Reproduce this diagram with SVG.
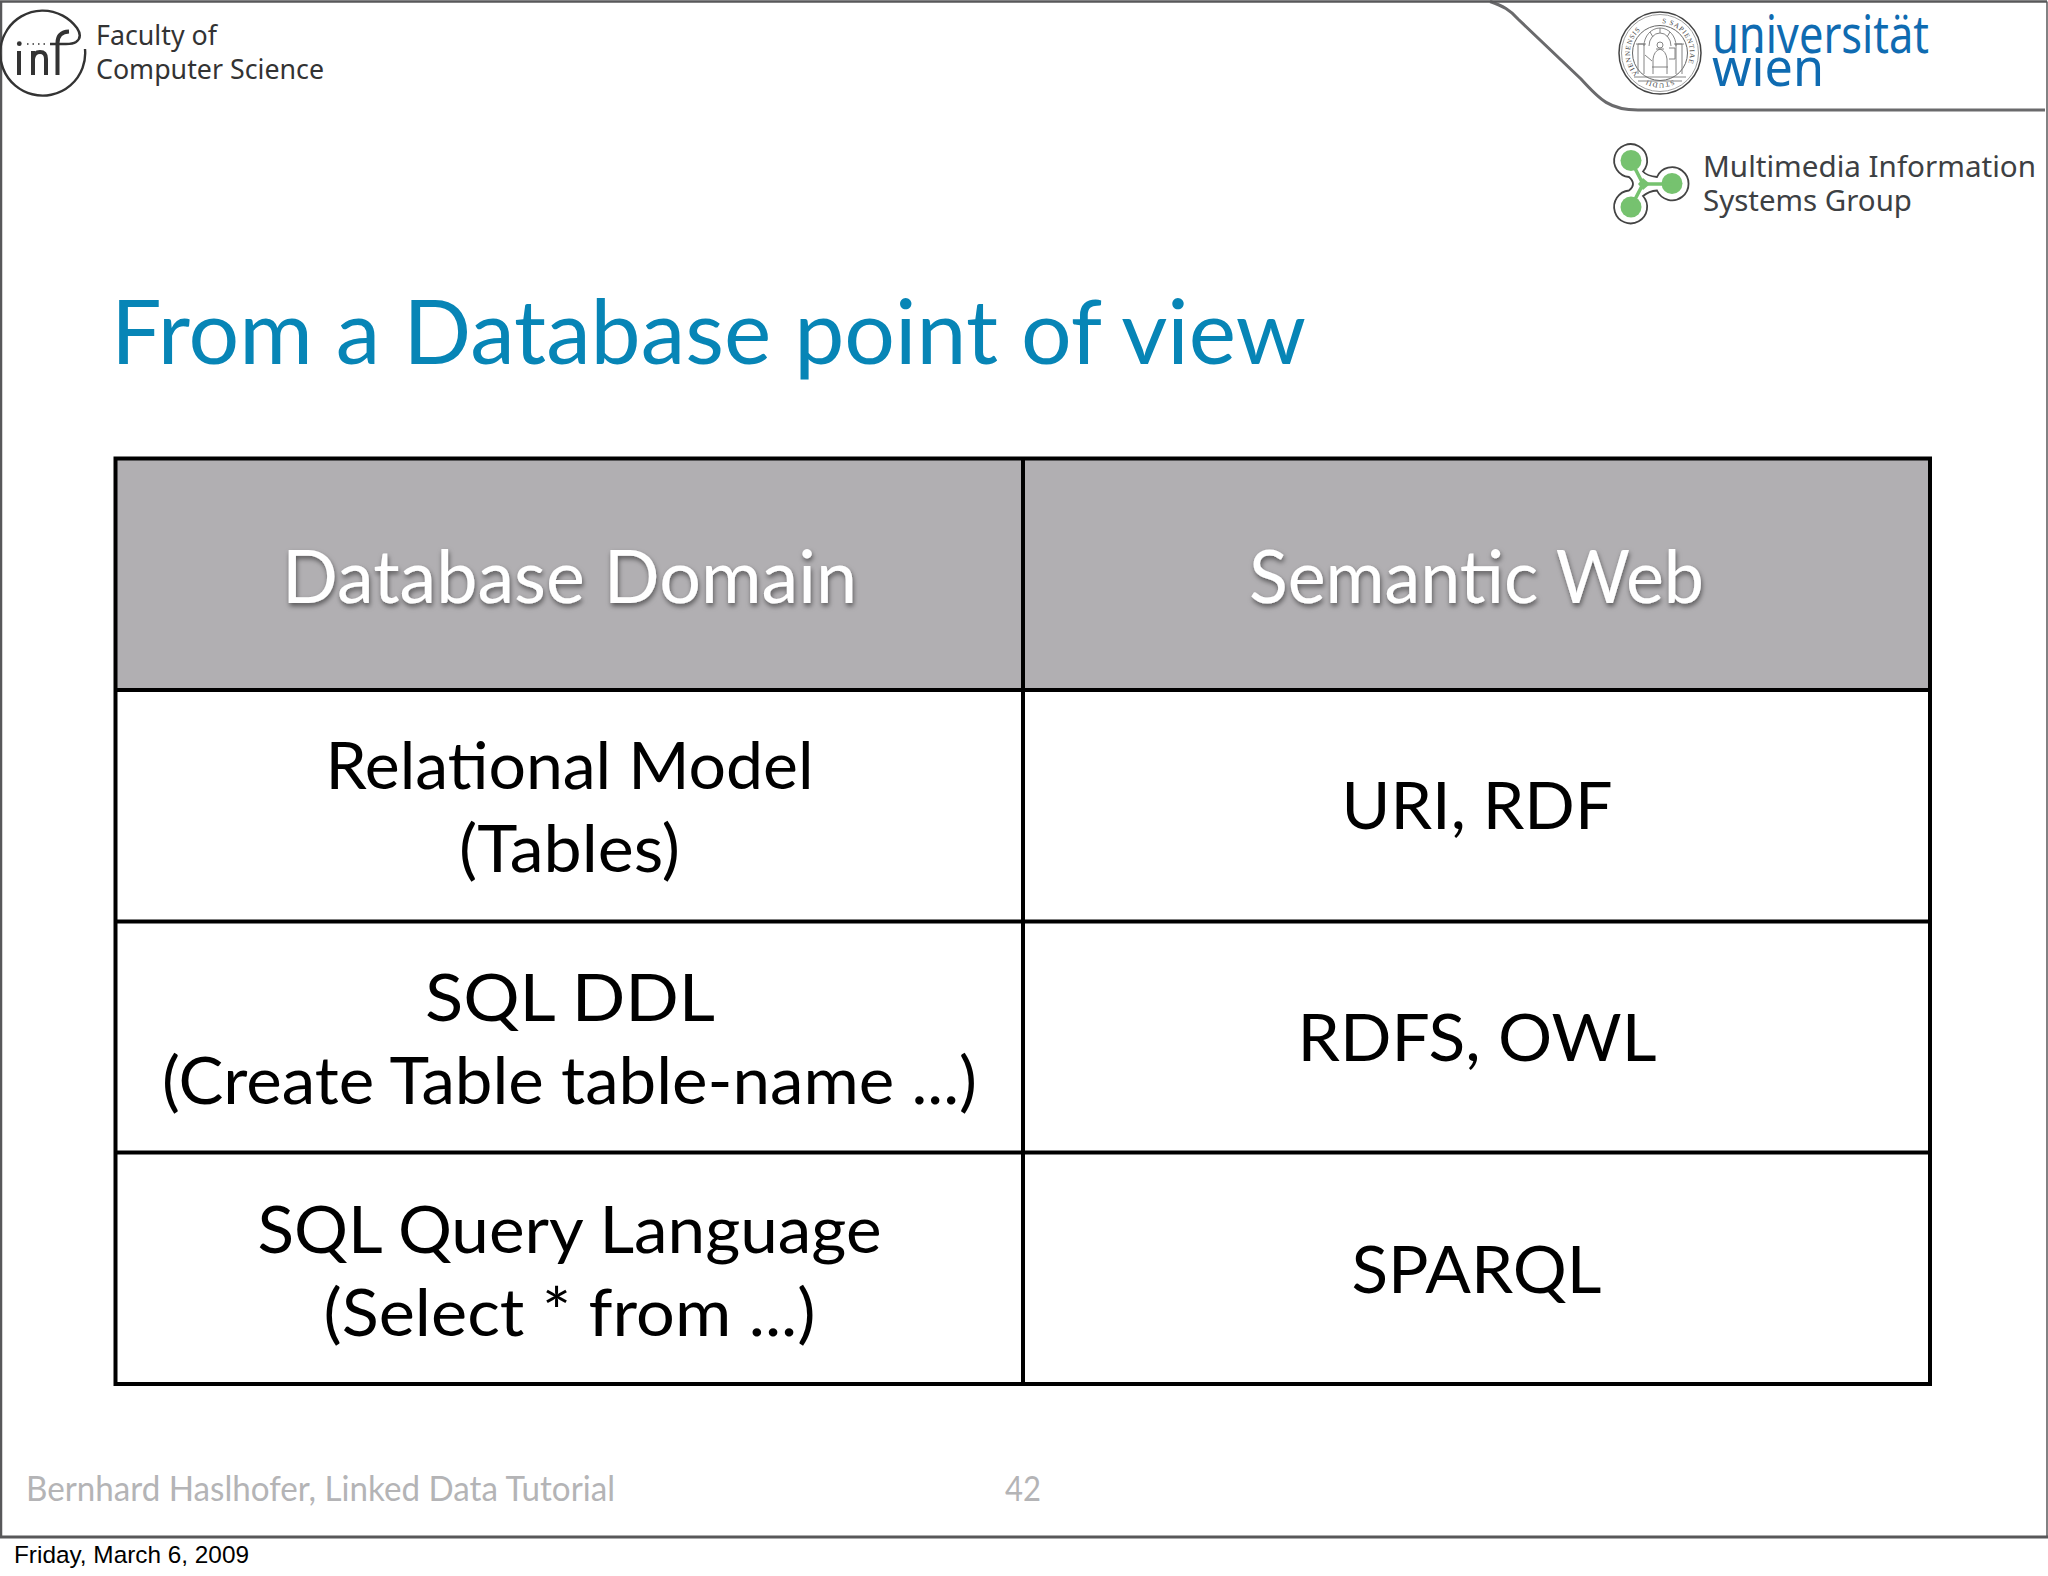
<svg xmlns="http://www.w3.org/2000/svg" width="2048" height="1576" viewBox="0 0 2048 1576">
<style>
.c{text-anchor:middle;font-size:66px;fill:#000;font-family:"Lato","Noto Sans",sans-serif}
.h{text-anchor:middle;font-size:74px;fill:#fff;font-family:"Lato","Noto Sans",sans-serif}
.g{font-size:35px;fill:#b4b4b6;font-family:"Lato","Noto Sans",sans-serif}
.s{font-size:29px;fill:#3d4043;font-family:"Noto Sans",sans-serif}
.f{font-size:27px;fill:#333;font-family:"Noto Sans",sans-serif}
.u{font-size:53px;fill:#0f6bb1;font-family:"Noto Sans",sans-serif}
.r{font-size:7px;fill:#444;font-family:"Liberation Serif",serif;letter-spacing:.8px}
.line{stroke:#000;stroke-width:4;fill:none}
.seal{fill:none;stroke:#777;stroke-width:.9}
</style>
<defs>
<filter id="sh" x="-10%" y="-20%" width="120%" height="150%"><feDropShadow dx="1" dy="3" stdDeviation="2.500" flood-color="#000" flood-opacity=".5"/></filter>
<path id="ring" d="M1660 23A30 30 0 1 1 1659.990 23"/>
</defs>
<rect width="2048" height="1576" fill="#fff"/>
<g id="frame" fill="none" stroke="#58585a">
<path d="M1 1537V1.500H1490" stroke-width="2.500"/>
<path d="M1490 1.500C1503 6 1510 10 1518 19L1581 79C1600 100 1610 110 1638 110H2045" stroke="#6a6a6c" stroke-width="3"/>
<path d="M1490 1.500H2047" stroke-width="2.500"/>
<path d="M2047 1.500V1537" stroke-width="1.500"/>
<path d="M0 1537H2048" stroke-width="3"/>
</g>
<g id="inf-logo" transform="translate(0 1)">
<path d="M85 48A42.500 42.500 0 1 1 77 27Q83 36 76 41Q73 43 66 43H50" fill="none" stroke="#333" stroke-width="2.400"/>
<path d="M19 50V74M33 74V50M33 58Q34 51 40 51Q46 51 46 58V74M57.500 74V42Q57.500 31 69 30.500" fill="none" stroke="#333" stroke-width="4"/>
<circle cx="19.300" cy="42.700" r="2.400" fill="#333"/>
<path d="M27 43H46" stroke="#333" stroke-width="1.500" stroke-dasharray="1.500 4"/>
<text class="f" x="96" y="44" textLength="121" lengthAdjust="spacingAndGlyphs">Faculty of</text>
<text class="f" x="96" y="78" textLength="228" lengthAdjust="spacingAndGlyphs">Computer Science</text>
</g>
<g id="uni-logo">
<circle cx="1660" cy="53" r="41" fill="#fff" stroke="#444" stroke-width="1.500"/>
<circle cx="1660" cy="53" r="38.500" fill="none" stroke="#888" stroke-width=".8"/>
<circle cx="1660" cy="53" r="27.500" fill="none" stroke="#666" stroke-width="1"/>
<text class="r"><textPath href="#ring" startOffset="2">S SAPIENTIAE</textPath></text>
<text class="r" text-anchor="middle"><textPath href="#ring" startOffset="94.200">STUDII</textPath></text>
<text class="r"><textPath href="#ring" startOffset="118">VIENNENSIS</textPath></text>
<path class="seal" d="M1638 74V44H1644V74M1676 74V44H1682V74M1636 44H1646M1674 44H1684M1644 46A16 18 0 0 1 1676 46M1649 46A11 13 0 0 1 1671 46M1660 28V33M1650 32L1653 37M1670 32L1667 37M1634 77H1686M1638 81H1682"/>
<path class="seal" d="M1653 74V59Q1654 51 1660 49Q1666 51 1667 59V74M1656 49H1664M1657 45A3 3 0 0 0 1663 45A3 3 0 0 0 1657 45M1669 48H1675V59H1669M1645 55L1652 61M1652 67H1668"/>
<text class="u" x="1712" y="53" textLength="217" lengthAdjust="spacingAndGlyphs">universität</text>
<text class="u" x="1712" y="86" textLength="112" lengthAdjust="spacingAndGlyphs">wien</text>
</g>
<g id="mis-logo">
<path d="M1643 171.500Q1647 176 1657 177A16.500 16.500 0 1 1 1657 190.500Q1649 191 1643 196A16.500 16.500 0 1 1 1629 190.500Q1637 184 1629 177A16.500 16.500 0 1 1 1643 171.500Z" fill="#fff" stroke="#444" stroke-width="1.800"/>
<circle cx="1631" cy="160.500" r="10.500" fill="#76c26f"/>
<circle cx="1672" cy="183.500" r="10.500" fill="#76c26f"/>
<circle cx="1631" cy="207" r="10.500" fill="#76c26f"/>
<path d="M1631 160.500L1643 184L1631 207M1643 184H1672" stroke="#76c26f" stroke-width="3.500" fill="none"/>
<path d="M1643 178L1650 184L1643 190L1638 184Z" fill="#76c26f"/>
<text class="s" x="1703" y="177" textLength="333" lengthAdjust="spacingAndGlyphs">Multimedia Information</text>
<text class="s" x="1703" y="211" textLength="209" lengthAdjust="spacingAndGlyphs">Systems Group</text>
</g>
<text id="title" x="111" y="364" textLength="1195" lengthAdjust="spacingAndGlyphs" style="font-size:90px;fill:#0785b6;font-family:'Lato','Noto Sans',sans-serif">From a Database point of view</text>
<g id="table">
<rect x="115" y="458" width="1815" height="232" fill="#b1afb2"/>
<rect x="115.500" y="458.500" width="1814.500" height="925.500" class="line"/>
<path d="M1023 458V1384M115 690H1930M115 921.500H1930M115 1152.500H1930" class="line"/>
<g filter="url(#sh)">
<text class="h" x="569.500" y="603" textLength="575" lengthAdjust="spacingAndGlyphs">Database Domain</text>
<text class="h" x="1476.500" y="603" textLength="455" lengthAdjust="spacingAndGlyphs">Semantic Web</text>
</g>
<text class="c" x="569.500" y="789" textLength="488" lengthAdjust="spacingAndGlyphs">Relational Model</text>
<text class="c" x="569.500" y="872" textLength="221" lengthAdjust="spacingAndGlyphs">(Tables)</text>
<text class="c" x="1477" y="829" textLength="271" lengthAdjust="spacingAndGlyphs">URI, RDF</text>
<text class="c" x="570" y="1021" textLength="290" lengthAdjust="spacingAndGlyphs">SQL DDL</text>
<text class="c" x="569.500" y="1104" textLength="815" lengthAdjust="spacingAndGlyphs">(Create Table table-name ...)</text>
<text class="c" x="1477" y="1061" textLength="359" lengthAdjust="spacingAndGlyphs">RDFS, OWL</text>
<text class="c" x="569.500" y="1253" textLength="624" lengthAdjust="spacingAndGlyphs">SQL Query Language</text>
<text class="c" x="569.500" y="1336" textLength="492" lengthAdjust="spacingAndGlyphs">(Select * from ...)</text>
<text class="c" x="1476.500" y="1293" textLength="250" lengthAdjust="spacingAndGlyphs">SPARQL</text>
</g>
<g id="footer">
<text class="g" x="26" y="1501" textLength="589" lengthAdjust="spacingAndGlyphs">Bernhard Haslhofer, Linked Data Tutorial</text>
<text class="g" x="1005" y="1501" textLength="36" lengthAdjust="spacingAndGlyphs">42</text>
<text x="14" y="1563" textLength="235" lengthAdjust="spacingAndGlyphs" style="font-size:24.300px;fill:#000;font-family:'Liberation Sans',sans-serif">Friday, March 6, 2009</text>
</g>
</svg>
